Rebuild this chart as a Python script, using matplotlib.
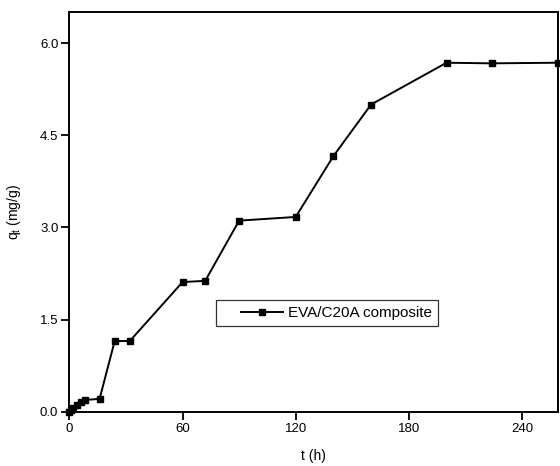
import matplotlib.pyplot as plt
from matplotlib.legend_handler import HandlerLine2D

plt.rcParams['font.family'] = ['Liberation Sans', 'DejaVu Sans']

# adsorption data
t_hours = [0, 1, 2, 4, 6, 8, 16, 24, 32, 60, 72, 90, 120, 140, 160, 200, 224, 259]
qt_values = [0.0, 0.03, 0.06, 0.11, 0.16, 0.19, 0.21, 1.15, 1.15, 2.11, 2.13,
             3.11, 3.17, 4.16, 5.0, 5.68, 5.67, 5.68]
x_ticks = [0, 60, 120, 180, 240]
y_ticks = [0.0, 1.5, 3.0, 4.5, 6.0]

fig = plt.figure(figsize=(5.6, 4.66), dpi=100)
ax = fig.add_axes([0.124, 0.1165, 0.872, 0.857])

line, = ax.plot(t_hours, qt_values, color='black', linewidth=1.4, marker='s',
                markersize=5, clip_on=False, label='EVA/C20A composite', zorder=3)

ax.set_xlim(0, 259)
ax.set_ylim(0, 6.5)
ax.set_xticks(x_ticks)
ax.set_yticks(y_ticks)
ax.set_yticklabels([f'{v:.1f}' for v in y_ticks])

for side in ['left', 'bottom', 'top', 'right']:
    ax.spines[side].set_linewidth(1.4)
ax.tick_params(direction='out', length=6, width=1.3, labelsize=9.5, pad=2)

ax.set_xlabel('t (h)', fontsize=10, labelpad=10)
ax.set_ylabel('q$_\\mathregular{t}$ (mg/g)', fontsize=10, labelpad=12)

leg = ax.legend(loc='upper left', bbox_to_anchor=(0.30, 0.28), borderaxespad=0,
                fontsize=11, frameon=True, fancybox=False, handlelength=4.0,
                handletextpad=0.33, borderpad=0.4,
                handler_map={line: HandlerLine2D(xpad=1.25, numpoints=1)})
leg.get_frame().set_edgecolor('black')
leg.get_frame().set_linewidth(0.9)

fig.savefig('out.png', dpi=100)
